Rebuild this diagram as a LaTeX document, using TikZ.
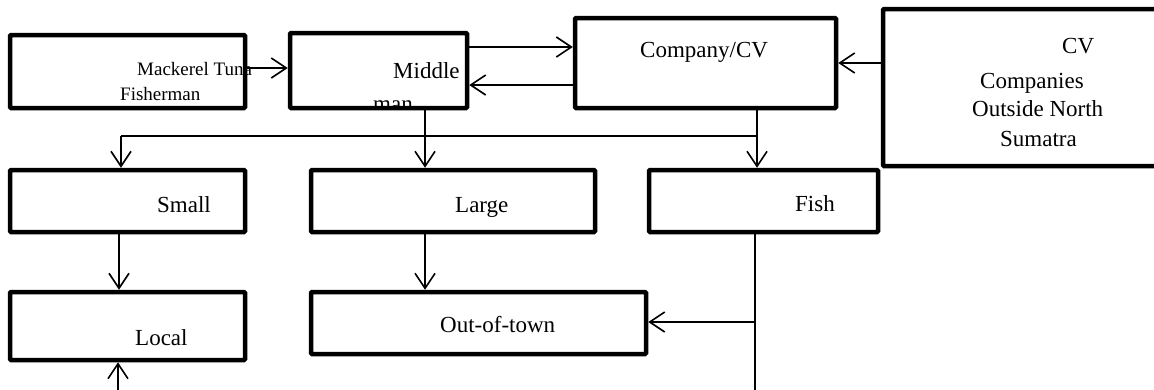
\documentclass[tikz,border=0pt]{standalone}
\usepackage{fontspec}
\setmainfont{Liberation Serif}
\usetikzlibrary{arrows.meta}
\begin{document}
\begin{tikzpicture}[x=1pt,y=-1pt,
  box/.style={draw,line width=4.5pt,rounded corners=1pt,inner sep=0pt,outer sep=2.25pt},
  arr/.style={line width=1.6pt,-{Straight Barb[length=15pt,width=20pt,line width=1.6pt]}},
  ln/.style={line width=1.6pt},
  big/.style={font=\fontsize{23}{27}\selectfont,inner sep=0pt,anchor=base west},
  small/.style={font=\fontsize{19}{22}\selectfont,inner sep=0pt,anchor=base west}]
\useasboundingbox (0,0) rectangle (1154,389);
% boxes
\node[box,minimum width=235pt,minimum height=73pt] (fish) at (127.5,71.5) {};
\node[box,minimum width=177pt,minimum height=75pt] (mid) at (378.5,70.5) {};
\node[box,minimum width=261pt,minimum height=90pt] (comp) at (705.5,63) {};
\node[box,minimum width=287pt,minimum height=157pt] (cvo) at (1026.5,87.5) {};
\node[box,minimum width=235pt,minimum height=62pt] (smallr) at (127.5,201) {};
\node[box,minimum width=284pt,minimum height=62pt] (large) at (453,201) {};
\node[box,minimum width=229pt,minimum height=62pt] (proc) at (763.5,201) {};
\node[box,minimum width=235pt,minimum height=68pt] (local) at (127.5,326) {};
\node[box,minimum width=335pt,minimum height=62pt] (out) at (478.5,323) {};
% texts
\node[small] (t1) at (137,75) {Mackerel Tuna};
\node[small] (t2) at (120,100) {Fisherman};
\node[big] (t3) at (393,78) {Middle};
\begin{scope}
\clip (mid.north west) rectangle ([yshift=4pt]mid.south east);
\node[big] (t4) at (373,111) {man};
\end{scope}
\node[big] (t5) at (640,57) {Company/CV};
\node[big] (t6) at (1062,53) {CV};
\node[big] (t7) at (980,88) {Companies};
\node[big] (t8) at (972,116) {Outside North};
\node[big] (t9) at (1000,146) {Sumatra};
\node[big] (t10) at (157,212) {Small};
\node[big] (t11) at (455,212) {Large};
\node[big] (t12) at (795,211) {Fish};
\node[big] (t13) at (135,345) {Local};
\node[big] (t14) at (440,332) {Out-of-town};
% connectors
\draw[arr] (fish.east |- 0,68) -- (mid.west |- 0,68);
\draw[arr] (mid.east |- 0,47) -- (comp.west |- 0,47);
\draw[arr] (comp.west |- 0,85) -- (mid.east |- 0,85);
\draw[arr] (cvo.west |- 0,63) -- (comp.east |- 0,63);
\coordinate (j1) at (121,136);
\coordinate (j2) at (757,136);
\draw[ln] (j1) -- (j2);
\draw[arr] (j1) -- (smallr.north -| j1);
\draw[arr] (mid.south -| 425,0) -- (large.north -| 425,0);
\draw[arr] (comp.south -| j2) -- (proc.north -| j2);
\draw[arr] (smallr.south -| 119,0) -- (local.north -| 119,0);
\draw[arr] (large.south -| 425,0) -- (out.north -| 425,0);
\coordinate (j3) at (755,322);
\coordinate (e1) at (755,395);
\draw[ln] (proc.south -| j3) -- (e1);
\draw[arr] (j3) -- (out.east |- j3);
\coordinate (b1) at (118,395);
\draw[arr] (b1) -- (local.south -| b1);
\end{tikzpicture}
\end{document}
